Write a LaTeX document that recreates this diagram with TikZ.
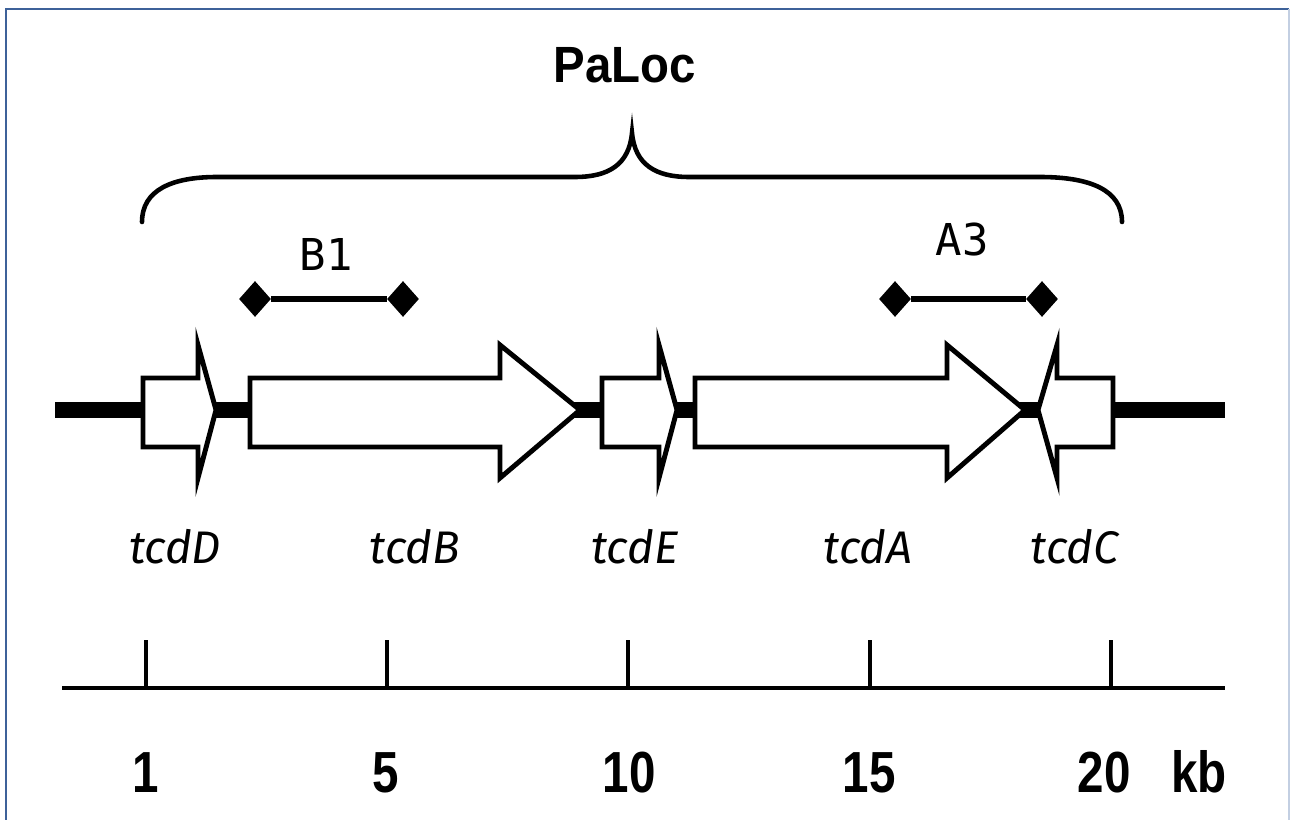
\documentclass[tikz,border=0pt]{standalone}
\usepackage{fontspec}
\setmainfont{Liberation Sans}
\newfontfamily\tcdfont{Fira Sans}
\newfontfamily\numfont[FakeStretch=0.82]{Liberation Sans}
\newfontfamily\titlefont[FakeStretch=0.93]{Liberation Sans}
\newfontfamily\labmono{DejaVu Sans Mono}
\usetikzlibrary{shapes.geometric}
\definecolor{frameblue}{HTML}{3D6199}
\definecolor{framelight}{HTML}{C3CFE2}
\tikzset{
  x=0.02cm, y=-0.02cm,
  gene/.style={draw=black, fill=white, line width=2.8pt, line join=miter, miter limit=30},
  backbone/.style={line width=9pt},
  genelabel/.style={anchor=base, inner sep=0pt, font=\tcdfont\itshape\fontsize{26}{30}\selectfont},
  numlabel/.style={anchor=base, inner sep=0pt, font=\numfont\bfseries\fontsize{33}{38}\selectfont},
  probelabel/.style={anchor=base, inner sep=0pt, font=\labmono\fontsize{25}{30}\selectfont},
  probeend/.style={diamond, fill=black, inner sep=0pt, minimum width=0.64cm, minimum height=0.72cm},
  probeline/.style={line width=3pt},
  tickline/.style={line width=2.1pt},
}
\begin{document}
\begin{tikzpicture}
\useasboundingbox (0,0) rectangle (1291,820);
% frame
\draw[frameblue, line width=1.5pt] (6,830) -- (6,9) -- (1289,9);
\draw[framelight, line width=1.2pt] (1289,9) -- (1289,830);

% title and brace
\node[anchor=base, inner sep=0pt, font=\titlefont\bfseries\fontsize{29}{34}\selectfont] (paloc) at (625,83) {PaLoc};
\coordinate (bl) at (142,222);
\coordinate (btip) at (632,133);
\coordinate (br) at (1122,222);
\draw[line width=2.6pt, line cap=round] (bl) .. controls (142,190) and (172,177) .. (217,177) -- (575,177)
  .. controls (608,177) and (629,165) .. (btip)
  .. controls (635,165) and (656,177) .. (689,177) -- (1040,177)
  .. controls (1090,177) and (1122,190) .. (br);

% probes
\node[probelabel] (b1) at (326,271) {B1};
\node[probeend] (b1l) at (255,299) {};
\node[probeend] (b1r) at (403,299) {};
\draw[probeline] (b1l) -- (b1r);
\node[probelabel] (a3) at (962,256) {A3};
\node[probeend] (a3l) at (895,299) {};
\node[probeend] (a3r) at (1042,299) {};
\draw[probeline] (a3l) -- (a3r);

% backbone
\coordinate (chrL) at (55,410);
\coordinate (chrR) at (1225,410);
\draw[backbone] (chrL) -- (chrR);

% genes (body y 378..447, heads y 345..478, axis y 410)
% tcdD
\draw[gene] (143,378) -- (198,378) -- (198,345) -- (216,410) -- (198,478) -- (198,447) -- (143,447) -- cycle;
% tcdB
\draw[gene] (250,378) -- (500,378) -- (500,345) -- (580,410) -- (500,478) -- (500,447) -- (250,447) -- cycle;
% tcdE
\draw[gene] (602,378) -- (659,378) -- (659,345) -- (677,410) -- (659,478) -- (659,447) -- (602,447) -- cycle;
% tcdA
\draw[gene] (695,378) -- (947,378) -- (947,345) -- (1025,410) -- (947,478) -- (947,447) -- (695,447) -- cycle;
% tcdC (leftward)
\draw[gene] (1113,378) -- (1057,378) -- (1057,345) -- (1038,410) -- (1057,478) -- (1057,447) -- (1113,447) -- cycle;

% gene labels
\node[genelabel] (lD) at (175,563) {tcdD};
\node[genelabel] (lB) at (415,563) {tcdB};
\node[genelabel] (lE) at (635,563) {tcdE};
\node[genelabel] (lA) at (868,563) {tcdA};
\node[genelabel] (lC) at (1075,563) {tcdC};

% scale
\coordinate (sL) at (62,688);
\coordinate (sR) at (1225,688);
\draw[line width=2.8pt] (sL) -- (sR);
\foreach \x/\n in {146/t1, 387/t5, 628/t10, 870/t15, 1111/t20} {
  \coordinate (\n) at (\x,688);
  \coordinate (\n top) at (\x,640);
  \draw[tickline] (\n top) -- (\n);
}
\node[numlabel] (n1) at (146,792) {1};
\node[numlabel] (n5) at (386,792) {5};
\node[numlabel] (n10) at (629,792) {10};
\node[numlabel] (n15) at (869,792) {15};
\node[numlabel] (n20) at (1104,792) {20};
\node[numlabel] (kb) at (1199,792) {kb};
\end{tikzpicture}
\end{document}
